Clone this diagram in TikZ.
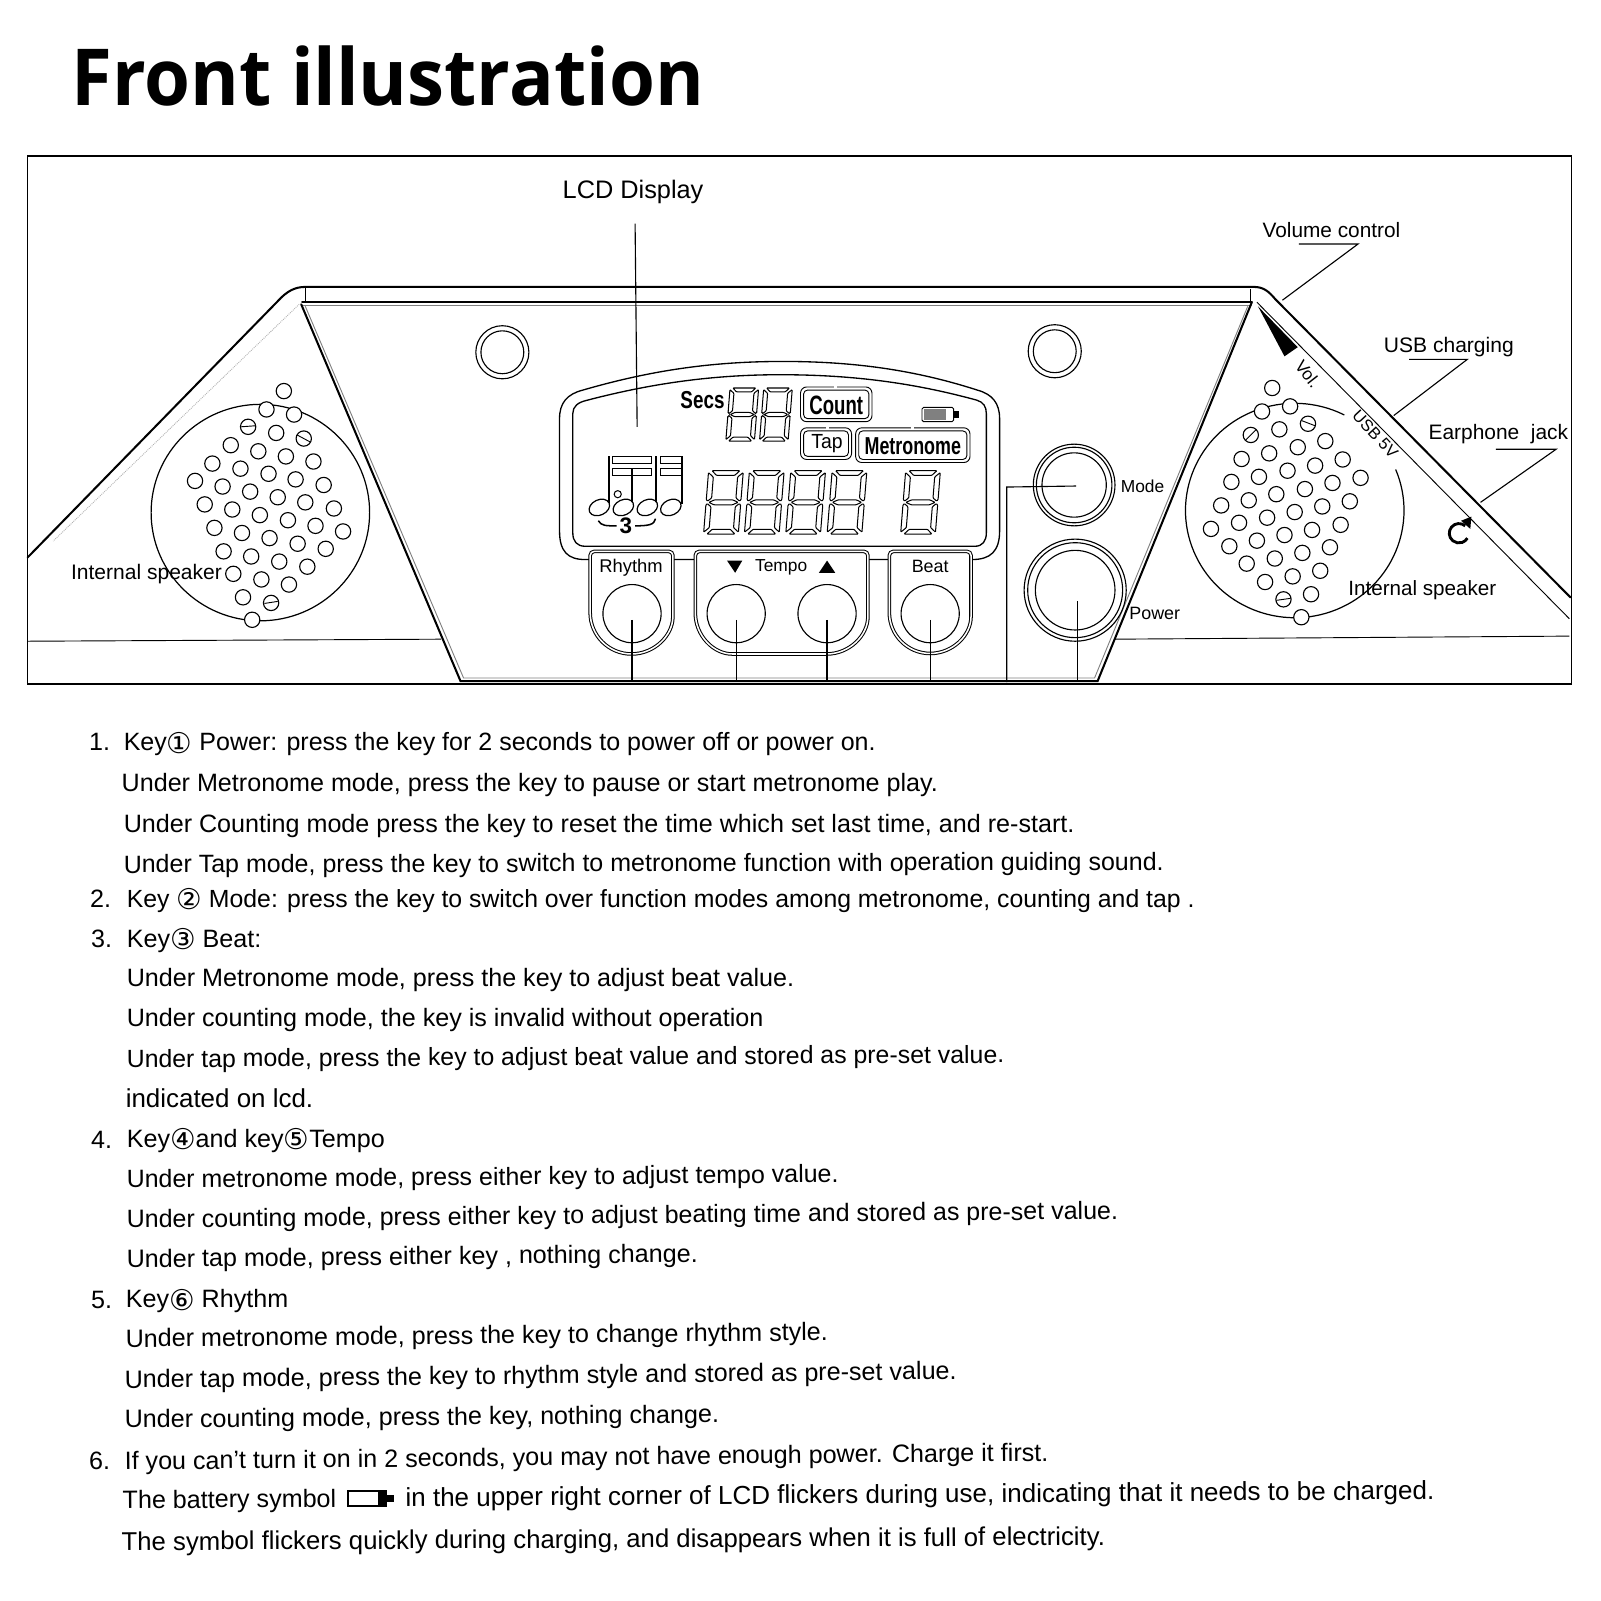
\documentclass[tikz,border=0pt]{standalone}
\usepackage{fontspec}
\usepackage{graphicx}
\setmainfont{Liberation Sans}
\newfontfamily\titlefont{Open Sans}
\newfontfamily\symfont{DejaVu Sans}
\tikzset{
    body/.style={line width=2pt, line cap=round},
    thinline/.style={line width=0.9pt},
    ring/.style={draw, circle, line width=1.1pt, inner sep=0pt},
    hole/.style={draw, circle, line width=1.1pt, inner sep=0pt, fill=white, minimum size=15pt},
    seg/.style={line width=1pt, rounded corners=0.8pt},
    lead/.style={line width=1.1pt},
    padbox/.style={draw, double, double distance=1.5pt, line width=1pt, fill=white},
    doc/.style={anchor=base west, inner sep=0pt, font=\fontsize{24.6}{28}\selectfont},
    lab/.style={inner sep=0pt, font=\fontsize{#1}{#1}\selectfont}
}
\newcommand{\keynum}[1]{\raisebox{-2.5pt}{\symfont\fontsize{28}{28}\selectfont #1}}
% one seven segment cell of the display
\newcommand{\lcddigit}[4]{%
    \begin{scope}[shift={(#1,#2)}, x=#3pt, y=-#4pt, xslant=0.08]
        \draw[seg] (0.10,0) -- (0.90,0) -- (0.76,0.075) -- (0.24,0.075) -- cycle;
        \draw[seg] (0,0.03) -- (0.15,0.10) -- (0.15,0.43) -- (0.04,0.48) -- (0,0.46) -- cycle;
        \draw[seg] (1,0.03) -- (0.85,0.10) -- (0.85,0.43) -- (0.96,0.48) -- (1,0.46) -- cycle;
        \draw[seg] (0.08,0.5) -- (0.24,0.46) -- (0.76,0.46) -- (0.92,0.5) -- (0.76,0.54) -- (0.24,0.54) -- cycle;
        \draw[seg] (0,0.54) -- (0.04,0.52) -- (0.15,0.57) -- (0.15,0.90) -- (0,0.97) -- cycle;
        \draw[seg] (1,0.54) -- (0.96,0.52) -- (0.85,0.57) -- (0.85,0.90) -- (1,0.97) -- cycle;
        \draw[seg] (0.10,1) -- (0.90,1) -- (0.76,0.925) -- (0.24,0.925) -- cycle;
    \end{scope}}
\begin{document}
\begin{tikzpicture}[x=1pt, y=-1pt]
    \useasboundingbox (0,0) rectangle (1568,1568);

    % Title and frame
    \node[anchor=base west, inner sep=0pt, font=\titlefont\bfseries\fontsize{77}{80}\selectfont] (title) at (70,103) {\scalebox{0.945}[1]{Front illustration}};
    \draw[line width=1.6pt] (27,153) rectangle (1539,670);

    % Body outline
    \draw[body] (27,546) -- (272,295) .. controls (281,285) and (289,281) .. (299,281) -- (1228,281) .. controls (1238,281) and (1243,286) .. (1249,293) -- (1538,585);
    \draw[body] (296,296) -- (1226,296);
    \draw[thinline, gray] (296,299) -- (1226,299);
    \draw[body] (295,298) -- (451,667) -- (1075,667) -- (1226,296);
    \draw[thinline, gray] (299,300) -- (454,664) -- (1072,664) -- (1222,300);
    \draw[thinline] (1231,296) -- (1537,606);
    \draw[thinline, gray!60, densely dotted] (293,298) -- (52,530);
    \draw[thinline] (27,628) -- (432,626);
    \draw[thinline] (1092,626) -- (1537,623);
    \draw[thinline] (299,281) -- (299,296);
    \draw[thinline] (1225,283) -- (1225,296);

    % Screws
    \node[ring, minimum size=52pt] (screwl) at (492,345) {};
    \node[ring, minimum size=42pt] (screwli) at (492,345) {};
    \node[ring, minimum size=52pt] (screwr) at (1033,344) {};
    \node[ring, minimum size=42pt] (screwri) at (1033,344) {};

    % LCD housing
    \draw[line width=1.3pt] (573,548) .. controls (556,548) and (548,540) .. (548,520) -- (548,410) .. controls (548,395) and (555,386) .. (571,382) .. controls (640,362) and (700,354) .. (767,354) .. controls (835,354) and (895,362) .. (957,382) .. controls (972,386) and (979,395) .. (979,410) -- (979,520) .. controls (979,540) and (970,548) .. (952,548) -- cycle;
    \draw[line width=1.3pt] (573,535) .. controls (565,535) and (561,530) .. (561,522) -- (561,405) .. controls (561,398) and (566,394) .. (575,392) .. controls (640,375) and (700,367) .. (764,367) .. controls (835,367) and (895,375) .. (957,392) .. controls (963,394) and (966,398) .. (966,405) -- (966,522) .. controls (966,530) and (962,535) .. (955,535) -- cycle;

    % Display digits
    \foreach \x in {694,734,774.5,815,887} {
        \lcddigit{\x}{461}{34}{62}
    }
    \lcddigit{715}{380}{28}{52}
    \lcddigit{748}{380}{28}{52}
    \node[lab=24, font=\bfseries\fontsize{24}{24}\selectfont] (secs) at (688,392) {\scalebox{0.77}[1]{Secs}};

    % Mode boxes
    \draw[line width=0.9pt, rounded corners=6pt] (784,379) rectangle (854,413);
    \draw[line width=0.9pt, rounded corners=4pt] (787,382) rectangle (851,410);
    \node[inner sep=0pt, font=\bfseries\fontsize{26}{26}\selectfont] (count) at (819,397) {\scalebox{0.7}[1]{Count}};
    \draw[line width=0.9pt, rounded corners=6pt] (784,419) rectangle (834,450);
    \draw[line width=0.9pt, rounded corners=4pt] (787,422) rectangle (831,447);
    \node[inner sep=0pt, font=\fontsize{20}{20}\selectfont] (tap) at (810,434) {\scalebox{0.95}[1]{Tap}};
    \draw[line width=0.9pt, rounded corners=6pt] (838,419) rectangle (950,453);
    \draw[line width=0.9pt, rounded corners=4pt] (841,422) rectangle (947,450);
    \node[inner sep=0pt, font=\bfseries\fontsize{24}{24}\selectfont] (metro) at (894,437) {\scalebox{0.73}[1]{Metronome}};
    \draw[white, line width=1.5pt] (817,379) -- (820,379);
    \draw[white, line width=1.5pt] (809,419) -- (812,419);
    \draw[white, line width=1.5pt] (892,419) -- (895,419);

    % Battery mark
    \draw[line width=0.9pt, rounded corners=1.5pt] (903,399) rectangle (934,413);
    \fill[black!50] (905,401) rectangle (926,411);
    \fill (934,403) -- (939,403) -- (939,409) -- (934,409) -- cycle;

    % Note group
    \foreach \ax/\ay/\bx/\by in {600/447/638/454, 600/459/638/466, 647/447/668/454, 647/459/668/466} {
        \draw[line width=1pt] (\ax,\ay) rectangle (\bx,\by);
    }
    \foreach \sx/\sy/\ey in {596/447/494, 618.5/459/494, 642.5/447/494, 668/447/494} {
        \draw[line width=2pt] (\sx,\sy) -- (\sx,\ey);
    }
    \foreach \nx in {587,610.5,634,657} {
        \draw[line width=1.2pt, fill=white, rotate around={25:(\nx,497)}] (\nx,497) ellipse[x radius=10.5pt, y radius=7.5pt];
    }
    \fill[white] (605,484) circle[radius=3.5pt];
    \draw[line width=1pt] (605,484) circle[radius=3.5pt];
    \draw[line width=1.5pt] (586,510) .. controls (589,515) and (593,515) .. (604,515);
    \draw[line width=1.5pt] (622,515) .. controls (635,515) and (641,514) .. (642,508);
    \node[inner sep=0pt, font=\bfseries\fontsize{22}{22}\selectfont] (triplet) at (613,515) {3};

    % Key pads
    \draw[padbox, rounded corners=4pt] (578,540) -- (659,540) -- (659,600) {[sharp corners] arc[start angle=0, end angle=-180, radius=40.5pt]} -- cycle;
    \draw[padbox, rounded corners=4pt] (681,540) -- (850,540) -- (850,600) {[sharp corners] arc[start angle=0, end angle=-90, radius=40.5pt]} -- (721,640.5) {[sharp corners] arc[start angle=-90, end angle=-180, radius=40pt]} -- cycle;
    \draw[padbox, rounded corners=4pt] (871,540) -- (951,540) -- (951,600) {[sharp corners] arc[start angle=0, end angle=-180, radius=40pt]} -- cycle;

    % Keys
    \node[ring, minimum size=57pt] (rhythmkey) at (619,601) {};
    \node[ring, minimum size=57pt] (downkey) at (721,601) {};
    \node[ring, minimum size=57pt] (upkey) at (810,601) {};
    \node[ring, minimum size=57pt] (beatkey) at (911,601) {};
    \node[ring, minimum size=80pt] (modeo) at (1052,475) {};
    \node[ring, minimum size=74pt] (modem) at (1052,475) {};
    \node[ring, minimum size=63pt] (modei) at (1052,475) {};
    \node[ring, minimum size=100pt] (powero) at (1053,578) {};
    \node[ring, minimum size=93pt] (powerm) at (1053,578) {};
    \node[ring, minimum size=78pt] (poweri) at (1053,578) {};

    % Key labels
    \node[lab=18] (rhythm) at (618,556) {Rhythm};
    \node[lab=17] (tempo) at (765,556) {Tempo};
    \node[lab=17.5] (beat) at (911,555) {Beat};
    \node[lab=17] (mode) at (1119,476) {Mode};
    \node[lab=17.5] (power) at (1131,601) {Power};
    \fill (712,549) -- (727,549) -- (720,561) -- cycle;
    \fill (802,561) -- (818,561) -- (810,549) -- cycle;

    % Key leaders
    \coordinate (rhythmtop) at (619,607);
    \coordinate (rhythmend) at (619,668);
    \coordinate (downtop) at (721,607);
    \coordinate (downend) at (721,668);
    \coordinate (uptop) at (810,607);
    \coordinate (upend) at (810,668);
    \coordinate (beattop) at (911,607);
    \coordinate (beatend) at (911,668);
    \coordinate (modetop) at (1054,476);
    \coordinate (modeknee) at (986,477);
    \coordinate (modeend) at (986,668);
    \coordinate (powertop) at (1055,589);
    \coordinate (powerend) at (1055,668);
    \draw[lead] (rhythmtop) -- (rhythmend);
    \draw[lead] (downtop) -- (downend);
    \draw[lead] (uptop) -- (upend);
    \draw[lead] (beattop) -- (beatend);
    \draw[lead] (modetop) -- (modeknee) -- (modeend);
    \draw[lead] (powertop) -- (powerend);

    % Left speaker
    \draw[line width=1.2pt] (255,502) ellipse[x radius=107pt, y radius=106pt];
    \foreach \x/\y [count=\i] in {278/383, 261/401, 288/406, 243/418, 270.5/424, 297.5/429.5,
        226/436, 253/442, 280/447, 307/452, 208/454, 235.5/459, 263/464, 289.5/469.5, 317/475,
        191/471, 218/476.5, 245/481.5, 272/487, 299/492, 327/498, 200.5/494, 227.5/499, 254.5/504.5,
        282/509.5, 309/515, 336/520.5, 210/517, 237/522, 264/527, 291.5/532.5, 319/537.5,
        219/540, 246/545, 273.5/550, 301/555, 228.5/562, 256/567.5, 283/572.5, 238/585, 265.5/590.5, 247/607} {
        \node[hole] (lh\i) at (\x,\y) {};
    }
    \draw[thinline] (236,418) -- (250,417);
    \draw[thinline] (291,426) -- (304,433);
    \draw[thinline] (259,591) -- (272,589);
    \node[lab=20.6] (lspeaker) at (143.5,562) {Internal speaker};

    % Right speaker
    \draw[line width=1.2pt] (1366.9,459.8) arc[start angle=22.5, end angle=-297, x radius=107pt, y radius=105pt];
    \foreach \x/\y [count=\i] in {1246/380, 1236/403, 1263.5/398, 1225/426, 1253/420.5, 1281/415,
        1298/432, 1271/438, 1243/444, 1216/449.5, 1315/450, 1288/456, 1261/461, 1233/467, 1206/472,
        1332.5/468, 1305/473, 1278/479, 1250/484, 1223/490, 1196/495, 1322/491, 1295/496, 1268/501.5,
        1241/507, 1213.5/512, 1186/518, 1313/514, 1285/519, 1258/524, 1231/529.5, 1204/535,
        1302.5/536, 1275.5/541.5, 1248.5/547, 1221/552, 1293/559, 1266/564.5, 1239/570, 1284/582, 1257/587, 1274.5/604.5} {
        \node[hole] (rh\i) at (\x,\y) {};
    }
    \draw[thinline] (1220,431) -- (1230,421);
    \draw[thinline] (1275,412) -- (1288,417);
    \draw[thinline] (1250,588) -- (1264,586);
    \node[lab=20.2] (rspeaker) at (1393,578) {Internal speaker};

    % Volume wedge and side marks
    \fill (1232,300) -- (1271,340) -- (1258,349) -- cycle;
    \node[lab=17, rotate=-52] (vollabel) at (1281,366) {Vol.};
    \node[lab=16, rotate=-47] (usblabel) at (1347,425) {USB 5V};
    \draw[line width=2.8pt] (1435,515) arc[start angle=50, end angle=330, radius=9.5pt];
    \fill (1431,510) -- (1441,506) -- (1440,518) -- cycle;

    % Callouts
    \node[lab=24.8] (lcdlabel) at (620,188) {LCD Display};
    \coordinate (lcdtop) at (622,219);
    \coordinate (lcdend) at (624,418);
    \draw[lead] (lcdtop) -- (lcdend);

    \node[lab=20.4] (vollead) at (1304,225) {Volume control};
    \coordinate (volstart) at (1272,239);
    \coordinate (volknee) at (1330,239);
    \coordinate (volend) at (1256,294);
    \draw[lead] (volstart) -- (volknee) -- (volend);

    \node[lab=20.6] (usblead) at (1419,340) {USB charging};
    \coordinate (usbstart) at (1380,352);
    \coordinate (usbknee) at (1437,352);
    \coordinate (usbend) at (1365,407);
    \draw[lead] (usbstart) -- (usbknee) -- (usbend);

    \node[lab=20.5] (earlead) at (1467.5,425) {Earphone\ \ jack};
    \coordinate (earstart) at (1465,440);
    \coordinate (earknee) at (1524,440);
    \coordinate (earend) at (1450,492);
    \draw[lead] (earstart) -- (earknee) -- (earend);

    % Instructions
    \node[doc] (n1) at (87,735.5) {1.};
    \node[doc, font=\fontsize{24.5}{28}\selectfont] (t1) at (121,735.5) {Key\keynum{①} Power: press the key for 2 seconds to power off or power on.};
    \node[doc] (t2) at (119,775.5) {Under Metronome mode, press the key to pause or start metronome play.};
    \node[doc] (t3) at (121,815.5) {Under Counting mode press the key to reset the time which set last time, and re-start.};
    \node[doc, rotate=0.15, font=\fontsize{24.5}{28}\selectfont] (t4) at (121,855) {Under Tap mode, press the key to switch to metronome function with operation guiding sound.};
    \node[doc] (n2) at (88,888.5) {2.};
    \node[doc, font=\fontsize{24.3}{28}\selectfont] (t5) at (124,888.5) {Key \keynum{②} Mode: press the key to switch over function modes among metronome, counting and tap .};
    \node[doc] (n3) at (89,927.5) {3.};
    \node[doc] (t6) at (124,927.5) {Key\keynum{③} Beat:};
    \node[doc] (t7) at (124,966.5) {Under Metronome mode, press the key to adjust beat value.};
    \node[doc] (t8) at (124,1005.5) {Under counting mode, the key is invalid without operation};
    \node[doc, rotate=0.3, font=\fontsize{24.35}{28}\selectfont] (t9) at (124,1045.5) {Under tap mode, press the key to adjust beat value and stored as pre-set value.};
    \node[doc, font=\fontsize{25.4}{28}\selectfont] (t10) at (123,1084.5) {indicated on lcd.};
    \node[doc] (n4) at (89,1124.5) {4.};
    \node[doc] (t11) at (124,1123.5) {Key\keynum{④}and key\keynum{⑤}Tempo};
    \node[doc, rotate=0.45, font=\fontsize{24.45}{28}\selectfont] (t12) at (124,1163.5) {Under metronome mode, press either key to adjust tempo value.};
    \node[doc, rotate=0.5, font=\fontsize{24.5}{28}\selectfont] (t13) at (124,1202.5) {Under counting mode, press either key to adjust beating time and stored as pre-set value.};
    \node[doc, rotate=0.55] (t14) at (124,1241.5) {Under tap mode, press either key , nothing change.};
    \node[doc] (n5) at (89,1281.5) {5.};
    \node[doc] (t15) at (123,1280.5) {Key\keynum{⑥} Rhythm};
    \node[doc, rotate=0.55] (t16) at (123,1319.5) {Under metronome mode, press the key to change rhythm style.};
    \node[doc, rotate=0.6] (t17) at (122,1359.5) {Under tap mode, press the key to rhythm style and stored as pre-set value.};
    \node[doc, rotate=0.5] (t18) at (122,1398.5) {Under counting mode, press the key, nothing change.};
    \node[doc] (n6) at (87,1439.5) {6.};
    \node[doc, rotate=0.55] (t19) at (122,1439.5) {If you can\char39{}t turn it on in 2 seconds, you may not have enough power. Charge it first.};
    \node[doc, rotate=0.4] (t20a) at (120,1477.5) {The battery symbol};
    \draw[line width=2pt] (341,1460) rectangle (378,1475);
    \fill (370,1460) rectangle (378,1475);
    \fill (378,1464) rectangle (386,1471);
    \node[doc, rotate=0.4, font=\fontsize{25.5}{28}\selectfont] (t20b) at (397,1475.5) {in the upper right corner of LCD flickers during use, indicating that it needs to be charged.};
    \node[doc, rotate=0.3, font=\fontsize{25.2}{28}\selectfont] (t21) at (119,1518.5) {The symbol flickers quickly during charging, and disappears when it is full of electricity.};
\end{tikzpicture}
\end{document}
